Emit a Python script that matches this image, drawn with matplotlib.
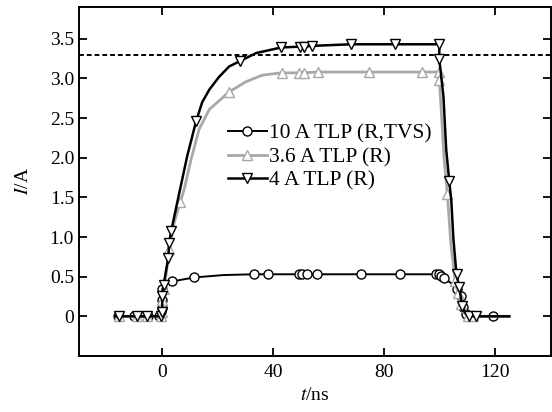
import matplotlib
matplotlib.use('Agg')
import matplotlib.pyplot as plt
from matplotlib.ticker import FixedLocator

'''
   TLP 电流波形：10 A TLP (R,TVS)、3.6 A TLP (R)、4 A TLP (R)
'''

plt.rcParams['font.family'] = ['Liberation Serif', 'DejaVu Serif']
plt.rcParams['mathtext.fontset'] = 'stix'

# 10 A TLP (R,TVS)，圆点
t_10a = [-17, -16, -10, -5, -1, 0, 0, 0, 1, 3.6, 11.5, 22, 33, 38, 49.4, 50.5, 52.3, 55.9,
         71.6, 85.8, 98.6, 99.6, 100.4, 101.6, 104, 106, 107.5, 108.5, 109.5, 110.5, 119, 125]
i_10a = [0, 0, 0, 0, 0, 0.1, 0.21, 0.34, 0.4, 0.44, 0.49, 0.52, 0.53, 0.53, 0.53, 0.53, 0.53, 0.53,
         0.53, 0.53, 0.53, 0.53, 0.51, 0.48, 0.42, 0.35, 0.25, 0.12, 0.03, 0, 0, 0]
mk_10a = [1, 2, 3, 4, 5, 6, 7, 9, 10, 12, 13, 14, 15, 16, 17, 18, 19, 20, 21, 22, 23,
          25, 26, 27, 28, 30]

# 3.6 A TLP (R)，灰色上三角
t_36a = [-17, -15.5, -9, -5.4, -0.4, 0, 0, 0.5, 1.5, 2.5, 4.3, 6.5, 7.9, 10.4, 13.3, 17, 24.1,
         30.3, 36, 43, 49.4, 51, 56, 74.6, 93.7, 99.8, 99.8, 100.5, 101.5, 102.7, 104, 105.5,
         106.5, 107.5, 108.5, 110, 112, 125]
i_36a = [0, 0, 0, 0, 0, 0.05, 0.2, 0.35, 0.55, 0.85, 1.18, 1.44, 1.6, 1.98, 2.36, 2.61, 2.83,
         2.96, 3.04, 3.07, 3.07, 3.07, 3.08, 3.08, 3.08, 3.08, 2.98, 2.6, 2.0, 1.54, 0.9, 0.45,
         0.3, 0.15, 0.05, 0, 0, 0]
mk_36a = [1, 2, 3, 4, 5, 6, 7, 9, 11, 16, 19, 20, 21, 22, 23, 24, 25, 26, 29, 31, 32, 33, 35, 36]

# 4 A TLP (R)，黑色下三角
t_4a = [-17, -15.5, -9, -5.4, -0.4, 0, 0, 0.2, 0.5, 2.2, 2.5, 3.2, 5.5, 9, 12.2, 14.4, 17, 20.5,
        24.1, 28.1, 33.9, 42.9, 49.5, 51, 54, 68, 84, 99.8, 99.8, 101.3, 102.3, 103.4, 104.1,
        104.9, 106, 107, 108, 109, 110.6, 113, 125]
i_4a = [0, 0, 0, 0, 0, 0.05, 0.25, 0.35, 0.4, 0.74, 0.93, 1.07, 1.45, 2.02, 2.46, 2.70, 2.86, 3.02,
        3.15, 3.22, 3.32, 3.39, 3.40, 3.40, 3.41, 3.43, 3.43, 3.43, 3.24, 2.77, 2.1, 1.70, 1.47,
        0.97, 0.53, 0.37, 0.13, 0.05, 0, 0, 0]
mk_4a = [1, 2, 3, 4, 5, 6, 8, 9, 10, 11, 14, 19, 21, 22, 23, 24, 25, 26, 27, 28, 31, 34, 35, 36,
         38, 39]

i_limit = 3.29
x_ticks = [0, 40, 80, 120]
y_ticks = [0, 0.5, 1.0, 1.5, 2.0, 2.5, 3.0, 3.5]
y_labels = ['0', '0.5', '1.0', '1.5', '2.0', '2.5', '3.0', '3.5']

fig = plt.figure(figsize=(5.52, 4.12), dpi=100)
ax = fig.add_axes([0.143, 0.136, 0.855, 0.847])

gray = '#a8a8a8'
ax.axhline(i_limit, color='black', ls=(0, (2.5, 1.5)), lw=1.4, zorder=1)
ax.plot(t_10a, i_10a, color='black', lw=1.4, marker='o', ms=6.5, mfc='white', mec='black',
        mew=1.0, markevery=mk_10a, label='10 A TLP (R,TVS)')
ax.plot(t_36a, i_36a, color=gray, lw=2.0, marker='^', ms=7, mfc='white', mec=gray,
        mew=1.0, markevery=mk_36a, label='3.6 A TLP (R)')
ax.plot(t_4a, i_4a, color='black', lw=1.8, marker='v', ms=7, mfc='white', mec='black',
        mew=1.0, markevery=mk_4a, label='4 A TLP (R)')

ax.set_xlim(-30, 140)
ax.set_ylim(-0.5, 3.9)
ax.xaxis.set_major_locator(FixedLocator(x_ticks))
ax.set_yticks(y_ticks)
ax.set_yticklabels(y_labels)
ax.tick_params(direction='in', length=6, width=1.3, labelsize=14, top=True, right=True,
               labeltop=False, labelright=False)
ax.tick_params(axis='x', pad=6)
for s in ax.spines.values():
    s.set_linewidth(1.4)
ax.set_xlabel(r'$\mathit{t}$/ns', fontsize=14, labelpad=4)
ax.set_ylabel(r'$\mathit{I}$/A', fontsize=14, labelpad=13)

leg = ax.legend(loc='upper left', bbox_to_anchor=(0.316, 0.665), frameon=False, fontsize=15.5,
                borderaxespad=0, borderpad=0, handlelength=1.8, handletextpad=0.1,
                labelspacing=0.15)

fig.savefig('out.png', dpi=100)
